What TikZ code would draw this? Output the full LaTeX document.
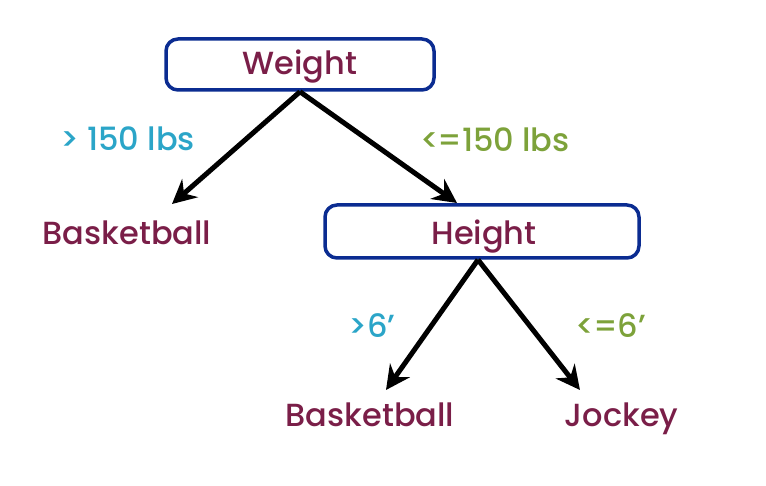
\documentclass[tikz,border=0pt]{standalone}
\usepackage{fontspec}
\setmainfont{Poppins}[UprightFont=* Medium]
\usetikzlibrary{arrows.meta}
\definecolor{maroon}{HTML}{7A1E48}
\definecolor{boxblue}{HTML}{0B2C91}
\definecolor{cyanlab}{HTML}{2BA5C8}
\definecolor{greenlab}{HTML}{7DA23A}
\tikzset{
  decision/.style={draw=boxblue, line width=3.5pt, rounded corners=12pt},
  word/.style={text=maroon, font=\fontsize{32}{36}\selectfont, inner sep=0pt, anchor=base},
  edgelab/.style={font=\fontsize{32}{36}\selectfont, inner sep=0pt, anchor=base},
  branch/.style={line width=5pt, -{Stealth[length=24pt, width=24pt, inset=8pt]}}
}
\newcommand{\lesseq}{<\kern-2.5pt=}
\begin{document}
\begin{tikzpicture}[x=1pt, y=-1pt]
\useasboundingbox (0,0) rectangle (766,486);
\node[decision, minimum width=268pt, minimum height=51pt] (weight) at (300,64.5) {};
\node[decision, minimum width=314pt, minimum height=53pt] (height) at (482,231.5) {};
\node[word] (wt) at (300,75) {Weight};
\node[word] (ht) at (484,245) {Height};
\node[word] (bb1) at (127,244.5) {Basketball};
\node[word] (bb2) at (370,426.5) {Basketball};
\node[word] (jockey) at (621.5,426.5) {Jockey};
\coordinate (t1) at (172,204);
\coordinate (t2) at (457,203);
\coordinate (t3) at (386,390);
\coordinate (t4) at (580,390);
\draw[branch] (weight.south) -- (t1);
\draw[branch] (weight.south) -- (t2);
\draw[branch] ([xshift=-4pt]height.south) -- (t3);
\draw[branch] ([xshift=-4pt]height.south) -- (t4);
\node[edgelab, text=cyanlab] (l1) at (127.5,151) {> 150 lbs};
\node[edgelab, text=greenlab] (l2) at (495,151.5) {\lesseq150 lbs};
\node[edgelab, text=cyanlab] (l3) at (372,338) {>6’};
\node[edgelab, text=greenlab] (l4) at (611,338) {\lesseq6’};
\end{tikzpicture}
\end{document}
